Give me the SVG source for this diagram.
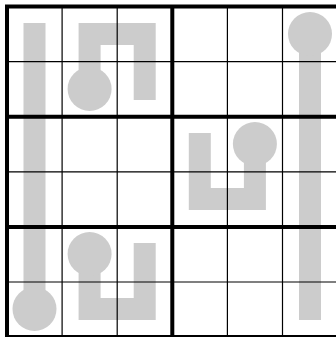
<svg xmlns="http://www.w3.org/2000/svg" width="336" height="337" viewBox="0 0 336 337">
<style>
.t{fill:none;stroke:#cccccc;stroke-width:22;stroke-linecap:square;stroke-linejoin:miter}
.b{fill:#cccccc}
.thin{stroke:#000;stroke-width:1.2;fill:none}
.thick{stroke:#000;stroke-width:4;fill:none}
</style>
<rect width="336" height="337" fill="#fff"/>
<g id="thermo1"><path class="t" d="M34.5,34 V309"/><circle class="b" cx="34.5" cy="309" r="22"/></g>
<g id="thermo2"><path class="t" d="M89.6,89 V34 H144.7 V89"/><circle class="b" cx="89.6" cy="89" r="22"/></g>
<g id="thermo3"><path class="t" d="M254.9,144 V199 H199.8 V144"/><circle class="b" cx="254.9" cy="144" r="22"/></g>
<g id="thermo4"><path class="t" d="M89.6,254 V309 H144.7 V254"/><circle class="b" cx="89.6" cy="254" r="22"/></g>
<g id="thermo5"><path class="t" d="M310,34 V309"/><circle class="b" cx="310" cy="34" r="22"/></g>
<g id="grid">
<path class="thin" d="M62.1,6.5V337.1 M117.2,6.5V337.1 M227.4,6.5V337.1 M282.5,6.5V337.1 M7,61.6H339 M7,171.8H339 M7,282H339"/>
<path class="thick" d="M172.3,6.5V337.1 M7,116.7H339 M7,226.9H339"/>
<path class="thick" d="M340,6.5 H7 V337.1 H340"/>
</g>
</svg>
